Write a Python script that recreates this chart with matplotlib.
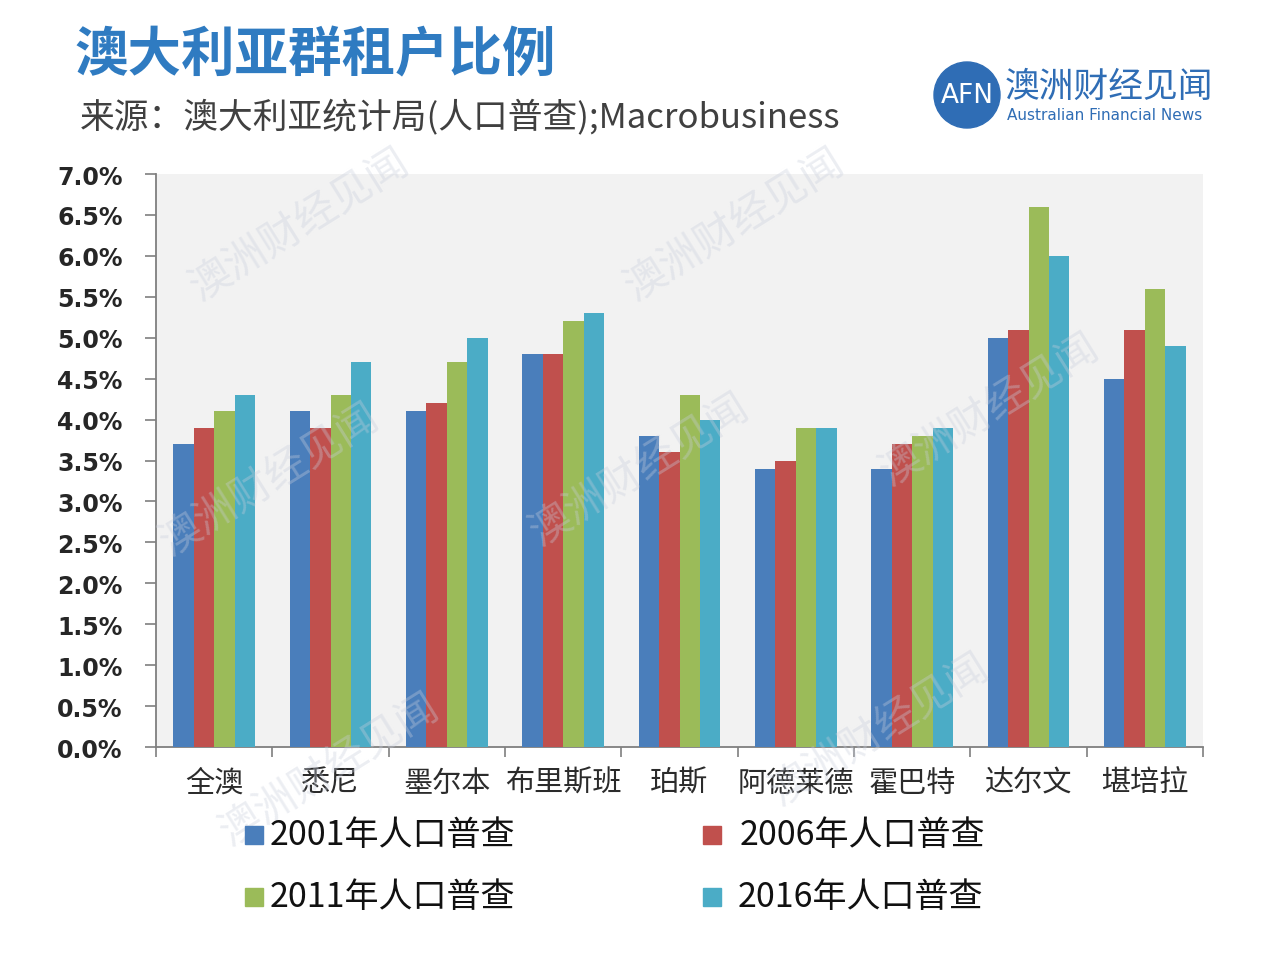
import matplotlib
matplotlib.use("Agg")
import matplotlib.pyplot as plt
import matplotlib.patches as mpatches
import numpy as np

plt.rcParams['font.family'] = ['Noto Sans CJK SC', 'DejaVu Sans']

categories = ['全澳', '悉尼', '墨尔本', '布里斯班', '珀斯', '阿德莱德', '霍巴特', '达尔文', '堪培拉']
series_names = ['2001年人口普查', '2006年人口普查', '2011年人口普查', '2016年人口普查']
v2001 = [3.7, 4.1, 4.1, 4.8, 3.8, 3.4, 3.4, 5.0, 4.5]
v2006 = [3.9, 3.9, 4.2, 4.8, 3.6, 3.5, 3.7, 5.1, 5.1]
v2011 = [4.1, 4.3, 4.7, 5.2, 4.3, 3.9, 3.8, 6.6, 5.6]
v2016 = [4.3, 4.7, 5.0, 5.3, 4.0, 3.9, 3.9, 6.0, 4.9]
yticks = [0.0, 0.5, 1.0, 1.5, 2.0, 2.5, 3.0, 3.5, 4.0, 4.5, 5.0, 5.5, 6.0, 6.5, 7.0]

colors = ['#4A7EBB', '#C0504D', '#9BBB59', '#4BACC6']
series = [v2001, v2006, v2011, v2016]

fig = plt.figure(figsize=(12.8, 9.7), dpi=100)
ax = fig.add_axes([156/1280, 1-748/970, (1203-156)/1280, (748-175)/970])
ax.set_facecolor('#F2F2F2')

# faint watermarks
wm = [(300, 225), (735, 225), (270, 480), (640, 470), (990, 410), (330, 770), (880, 730)]
for wx, wy in wm:
    fig.text(wx/1280, 1-wy/970, '澳洲财经见闻', fontsize=30, color='#C8CEDC', alpha=0.35,
             rotation=32, ha='center', va='center', zorder=0)

x = np.arange(len(categories))
bw = 0.176
for i, (vals, c) in enumerate(zip(series, colors)):
    ax.bar(x + (i - 1.5) * bw, vals, width=bw, color=c, edgecolor='none', zorder=3)

ax.set_xlim(-0.5, len(categories) - 0.5)
ax.set_ylim(0, 7.0)
ax.set_yticks(yticks)
ax.set_yticklabels([f'{t:.1f}%' for t in yticks], family=['DejaVu Sans'], fontsize=17,
                   fontweight='bold', color='#262626')
ax.tick_params(axis='y', length=8, width=1.2, color='#7F7F7F', pad=16)

ax.set_xticks(x)
ax.set_xticklabels(categories, fontsize=21, color='#2B2B2B', fontweight='medium')
ax.tick_params(axis='x', length=0, pad=15)
ax.set_xticks(np.arange(-0.5, len(categories), 1), minor=True)
ax.tick_params(axis='x', which='minor', length=7, width=1.2, color='#7F7F7F')

for s in ['top', 'right']:
    ax.spines[s].set_visible(False)
for s in ['left', 'bottom']:
    ax.spines[s].set_color('#7F7F7F')
    ax.spines[s].set_linewidth(1.3)

# Title & subtitle
fig.text(75/1280, 1-56/970, '澳大利亚群租户比例', fontsize=38.5, fontweight='bold',
         color='#2F7BC1', va='center', ha='left')
fig.text(80/1280, 1-117/970, '来源：澳大利亚统计局(人口普查);Macrobusiness', fontsize=25,
         color='#404040', va='center', ha='left', fontweight='medium')

# Logo
circ = mpatches.Ellipse((967/1280, 1-96/970), 66/1280, 66/970, transform=fig.transFigure,
                        color='#2F6DB5', zorder=5)
fig.patches.append(circ)
fig.text(967/1280, 1-96/970, 'AFN', fontsize=19, color='white', ha='center', va='center',
         family=['DejaVu Sans'], zorder=6)
fig.text(1005/1280, 1-87/970, '澳洲财经见闻', fontsize=25, color='#2F6DB5', ha='left', va='center')
fig.text(1007/1280, 1-116/970, 'Australian Financial News', fontsize=11, color='#2F6DB5',
         ha='left', va='center', family=['DejaVu Sans'])

# Legend (manual 2x2)
leg_pos = [(245, 836, 270), (703, 836, 740), (245, 898, 270), (703, 898, 738)]
for (sx, sy, tx), name, c in zip(leg_pos, series_names, colors):
    sq = mpatches.Rectangle((sx/1280, 1-(sy+9)/970), 18/1280, 18/970,
                            transform=fig.transFigure, color=c)
    fig.patches.append(sq)
    fig.text(tx/1280, 1-sy/970, name, fontsize=24.5, color='#111111', ha='left', va='center',
             fontweight='medium')

fig.savefig('out.png', dpi=100)
